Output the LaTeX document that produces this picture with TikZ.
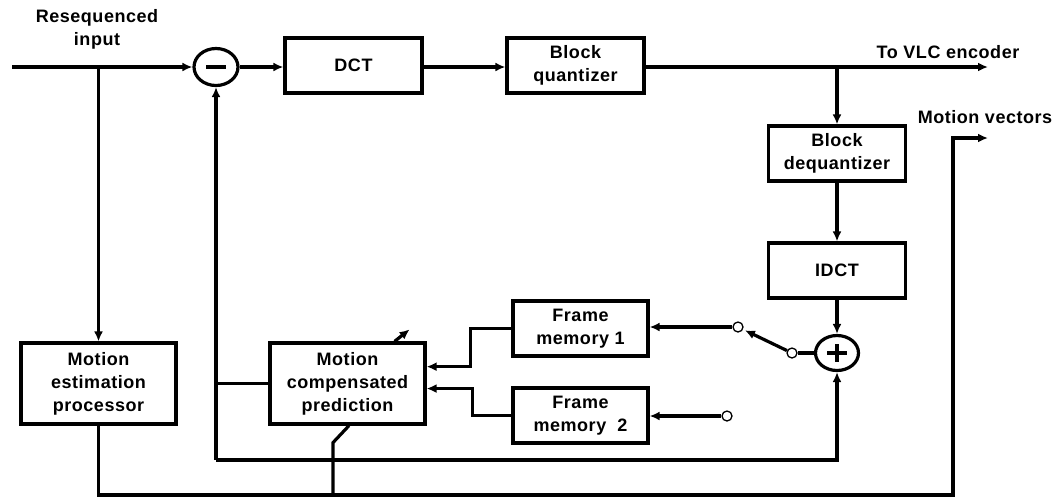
\documentclass[tikz,border=0pt]{standalone}
\usepackage{fontspec}
\setmainfont{Liberation Sans}[LetterSpace=3]
\usetikzlibrary{positioning,calc,shapes.geometric,arrows.meta}
\newcommand{\bnode}[4][]{\node [blk,#1] (#2) at (#3) {#4}}
\newcommand{\tnode}[2]{\node [term] (#1) at (#2) {}}
\tikzset{
  blk/.style={draw, line width=3.2pt, align=center, minimum width=137pt, minimum height=55pt, inner sep=2pt},
  big/.style={minimum width=155pt, minimum height=81pt},
  sum/.style={draw, ellipse, line width=3.2pt, minimum width=44pt, minimum height=37pt, inner sep=0pt},
  term/.style={draw, circle, line width=1.3pt, fill=white, minimum size=10pt, inner sep=0pt},
  sig/.style={line width=3.2pt, -{Latex[length=10pt,width=9pt]}},
  wire/.style={line width=3.2pt}
}
\begin{document}
\begin{tikzpicture}[x=1pt, y=-1pt, font=\bfseries\fontsize{18}{23}\selectfont]
\useasboundingbox (0,0) rectangle (1062,499);

\bnode{DCT}{353.5,65.5}{DCT};
\bnode{BQ}{575.5,65.5}{Block\\quantizer};
\bnode{BD}{837,153.5}{Block\\dequantizer};
\bnode{IDCT}{837,270.5}{IDCT};
\bnode[minimum width=135pt]{FM1}{580.5,328.5}{Frame\\memory 1};
\bnode[minimum width=135pt]{FM2}{580.5,415.5}{Frame\\memory~~2};
\bnode[big]{MCP}{347.5,383.5}{Motion\\compensated\\prediction};
\bnode[big]{MEP}{98.5,383.5}{Motion\\estimation\\processor};

\node [sum] (SUB) at (216,67) {};
\draw [wire] (SUB.center) +(-10,0) -- +(10,0);
\node [sum, minimum width=43pt, minimum height=35pt] (ADD) at (837,353) {};
\draw [wire] (ADD.center) +(-10,0) -- +(10,0);
\draw [wire] (ADD.center) +(0,-9) -- +(0,9);

\coordinate (IN) at (12,67);
\coordinate (J1) at (98.5,67);
\coordinate (J2) at (837,67);
\coordinate (OUT) at (988,67);
\coordinate (FB) at (216,460);
\coordinate (BOT) at (953,495);
\coordinate (MV) at (988,138);

\draw[sig] (IN) -- (SUB);
\draw[sig] (J1) -- (MEP);
\draw[sig] (SUB) -- (SUB -| DCT.west);
\draw[sig] (SUB -| DCT.east) -- (SUB -| BQ.west);
\draw[sig] (SUB -| BQ.east) -- (OUT);
\draw[sig] (J2) -- (BD);
\draw[sig] (BD) -- (IDCT);
\draw[sig] (IDCT) -- (ADD);

% switch
\tnode{S0}{792,353};
\tnode{S1}{738,327};
\tnode{S2}{727,416};
\draw[wire] (ADD) -- (S0);
\draw[sig, shorten >=2pt] (S0) -- (S1);
\draw[sig] (S1) -- (S1 -| FM1.east);
\draw[sig] (S2) -- (S2 -| FM2.east);

\draw[sig] (FM1.west) -- ++(-41,0) |- ($(MCP.north east)!0.3!(MCP.south east)$);
\draw[sig] (FM2.west) -- ++(-39,0) |- ($(MCP.north east)!0.56!(MCP.south east)$);

% prediction feedback
\draw[wire] (MCP.west) -- (MCP.west -| FB);
\draw[sig] (FB) -- (SUB);
\draw[sig] (FB) -| (ADD);
\draw[sig] ($(MCP.north east)+(-32,0)$) -- ++(15,-12);

% motion vectors
\coordinate (MB) at ($(MCP.south)+(1.5,0)$);
\draw[wire] (MB) -- ++(-16,17) -- ++(0,54);
\draw[sig] (MEP) |- (BOT) |- (MV);

\node [align=center] (LIN) at (97,29) {Resequenced\\input};
\node (LVLC) at (948,52) {To VLC encoder};
\node (LMV) at (985,117) {Motion vectors};

\end{tikzpicture}
\end{document}
